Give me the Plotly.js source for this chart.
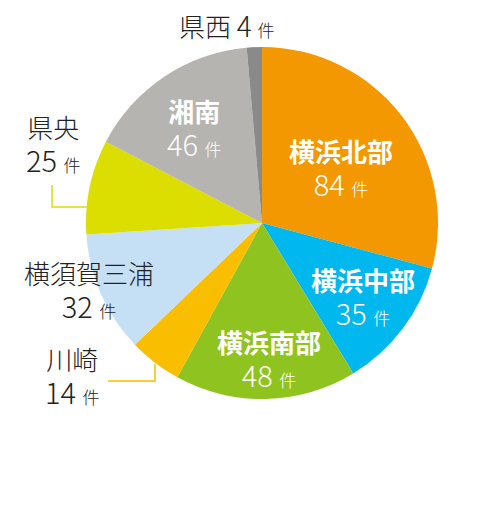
<!DOCTYPE html>
<html>
<head>
<meta charset="utf-8">
<script src="https://cdn.plot.ly/plotly-3.0.1.min.js"></script>
<style>html,body{margin:0;padding:0;background:#fff;}#chart{width:500px;height:517px;}</style>
</head>
<body>
<div id="chart"></div>
<script>
const regions = ['横浜北部','横浜中部','横浜南部','川崎','横須賀三浦','県央','湘南','県西'];
const counts = [84, 35, 48, 14, 32, 25, 46, 4];
const colors = ['#F39800','#00B8EE','#8FC31F','#F9BE00','#C5E0F5','#DCDD00','#B5B4B0','#8A8A8A'];
const unit = '件';

const W = 500, H = 517;
const px = x => x / W;
const py = y => 1 - y / H;

// label block positions (pixels): [center x, center y, inside?]
const labelPos = [
  [341, 168, true],
  [363, 297, true],
  [269, 359, true],
  [72, 376, false],
  [89, 290, false],
  [53, 144, false],
  [194, 128, true],
  null
];

const FONT = '"Noto Sans CJK JP", "Noto Sans", sans-serif';
const annotations = [];
regions.forEach((r, i) => {
  const p = labelPos[i];
  if (!p) return;
  const inside = p[2];
  annotations.push({
    xref: 'paper', yref: 'paper', x: px(p[0]), y: py(p[1]),
    xanchor: 'center', yanchor: 'middle', align: 'center',
    showarrow: false, borderpad: 0,
    text: r + '<br><span style="font-size:29px;font-weight:300">' + counts[i] +
          ' </span><span style="font-size:17px;font-weight:300">' + unit + '</span>',
    font: {family: FONT, size: 26, color: inside ? '#ffffff' : '#222222', weight: inside ? 700 : 300}
  });
});
// 県西 single line label
annotations.push({
  xref: 'paper', yref: 'paper', x: px(226), y: py(25),
  xanchor: 'center', yanchor: 'middle', showarrow: false, borderpad: 0,
  text: regions[7] + ' <span style="font-size:28px">' + counts[7] + '</span> <span style="font-size:17px">' + unit + '</span>',
  font: {family: FONT, size: 26, color: '#222222', weight: 300}
});

const shapes = [
  {type: 'path', xref: 'paper', yref: 'paper',
   path: `M ${px(52)} ${py(185)} L ${px(52)} ${py(207)} L ${px(87)} ${py(207)}`,
   line: {color: colors[5], width: 1.5}},
  {type: 'path', xref: 'paper', yref: 'paper',
   path: `M ${px(108)} ${py(381)} L ${px(155)} ${py(381)} L ${px(155)} ${py(364)}`,
   line: {color: colors[3], width: 1.5}}
];

const data = [{
  type: 'pie',
  labels: regions,
  values: counts,
  sort: false,
  direction: 'clockwise',
  rotation: 0,
  marker: {colors: colors, line: {width: 0}},
  textinfo: 'none',
  hoverinfo: 'label+value',
  showlegend: false,
  domain: {x: [86 / W, 438 / W], y: [1 - 399 / H, 1 - 47 / H]}
}];

const layout = {
  width: W, height: H,
  margin: {l: 0, r: 0, t: 0, b: 0},
  paper_bgcolor: '#ffffff',
  annotations: annotations,
  shapes: shapes
};

Plotly.newPlot('chart', data, layout, {displayModeBar: false, staticPlot: true});
</script>
</body>
</html>
